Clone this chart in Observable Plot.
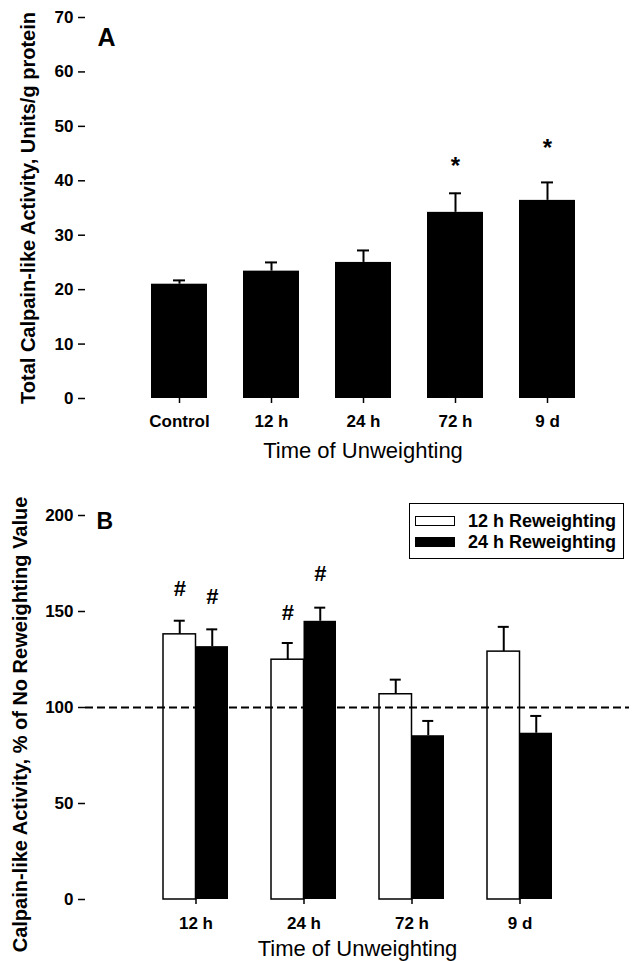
<!DOCTYPE html>
<html>
<head>
<meta charset="utf-8">
<script src="https://cdn.jsdelivr.net/npm/d3@7"></script>
<script src="https://cdn.jsdelivr.net/npm/@observablehq/plot@0.6"></script>
<style>
  html, body { margin: 0; padding: 0; background: #fff; }
  #wrap { position: relative; width: 640px; height: 961px; font-family: "Liberation Sans", Arial, sans-serif; }
  #wrap svg { position: absolute; left: 0; overflow: visible; }
  .legend { position: absolute; left: 409px; top: 503px; width: 213px; height: 54px; border: 1.5px solid #000; background: #fff; }
  .row { position: absolute; left: 0; height: 20px; display: flex; align-items: center; }
  .sw { width: 38px; height: 8px; margin-left: 5px; margin-right: 13px; border: 1.5px solid #000; }
  .lt { font-weight: bold; font-size: 18px; color: #000; white-space: nowrap; }
</style>
</head>
<body>
<div id="wrap"></div>
<script>
// ---- Panel A data ----
const timesA = ["Control", "12 h", "24 h", "72 h", "9 d"];
const meanA = [21.0, 23.4, 25.0, 34.2, 36.4];
const semA = [0.7, 1.6, 2.2, 3.5, 3.3];
const ticksA = [0, 10, 20, 30, 40, 50, 60, 70];
const starTimesA = ["72 h", "9 d"];
const starYA = [42.6, 45.9];

// ---- Panel B data ----
const timesB = ["12 h", "24 h", "72 h", "9 d"];
const seriesB = ["12 h Reweighting", "24 h Reweighting"];
const mean12 = [138.1, 124.9, 106.9, 129.1];
const sem12 = [7.1, 8.7, 7.6, 12.9];
const mean24 = [131.7, 144.9, 85.3, 86.6];
const sem24 = [9.0, 7.1, 7.7, 9.0];
const ticksB = [0, 50, 100, 150, 200];
const hash12 = [{time: "12 h", y: 162}, {time: "24 h", y: 149}];
const hash24 = [{time: "12 h", y: 157.7}, {time: "24 h", y: 169.4}];
const refLine = [100];

const dataA = timesA.map((t, i) => ({time: t, mean: meanA[i], sem: semA[i]}));
const starsA = starTimesA.map((t, i) => ({time: t, y: starYA[i]}));
const d12 = timesB.map((t, i) => ({time: t, mean: mean12[i], sem: sem12[i]}));
const d24 = timesB.map((t, i) => ({time: t, mean: mean24[i], sem: sem24[i]}));

const font = "Liberation Sans, Arial, sans-serif";

const chartA = Plot.plot({
  width: 640, height: 470,
  marginLeft: 85, marginRight: 0, marginTop: 17, marginBottom: 72,
  style: {fontFamily: font, fontWeight: "bold", fontSize: "17px", background: "transparent", color: "black"},
  x: {domain: timesA, paddingInner: 0.395, paddingOuter: 0.6975, align: 0.5, label: null, axis: null},
  y: {domain: [0, 70], label: null, axis: null},
  marks: [
    Plot.barY(dataA, {x: "time", y: "mean", fill: "black"}),
    Plot.ruleX(dataA, {x: "time", y1: "mean", y2: d => d.mean + d.sem, stroke: "black", strokeWidth: 2}),
    Plot.tickY(dataA, {x: "time", y: d => d.mean + d.sem, insetLeft: 22, insetRight: 22, stroke: "black", strokeWidth: 2}),
    Plot.text(starsA, {x: "time", y: "y", text: () => "*", fontSize: 24, fontWeight: "bold"}),
    Plot.axisY({ticks: ticksA, tickSize: 7, tickPadding: 5, line: true, label: null, fontSize: 17, strokeWidth: 1.5}),
    Plot.axisX({tickSize: 5, tickPadding: 11, line: true, label: null, fontSize: 17, strokeWidth: 1.5}),
    Plot.text(["Total Calpain-like Activity, Units/g protein"], {frameAnchor: "left", text: d => d, rotate: -90, textAnchor: "middle", lineAnchor: "middle", dx: -57, fontSize: 20, fontWeight: "bold"}),
    Plot.text(["Time of Unweighting"], {frameAnchor: "bottom", text: d => d, textAnchor: "middle", lineAnchor: "middle", dy: 52, fontSize: 22, fontWeight: "normal"}),
    Plot.text(["A"], {frameAnchor: "top-left", text: d => d, dx: 12, dy: 11, lineAnchor: "top", textAnchor: "start", fontSize: 25, fontWeight: "bold"})
  ]
});

const bw = 65, half = bw / 2, capW = 11;
const capIn = half / 2 - capW / 2;

const chartB = Plot.plot({
  width: 640, height: 491,
  marginLeft: 85, marginRight: 11, marginTop: 45, marginBottom: 62,
  style: {fontFamily: font, fontWeight: "bold", fontSize: "17px", background: "transparent", color: "black"},
  x: {domain: timesB, paddingInner: 0.4026, paddingOuter: 0.7013, align: 0.5, label: null, axis: null},
  y: {domain: [0, 200], label: null, axis: null},
  marks: [
    Plot.barY(d12, {x: "time", y: "mean", fill: "white", stroke: "black", strokeWidth: 1.5, insetRight: half}),
    Plot.barY(d24, {x: "time", y: "mean", fill: "black", insetLeft: half}),
    Plot.ruleY(refLine, {stroke: "black", strokeWidth: 2, strokeDasharray: "8,4"}),
    Plot.ruleX(d12, {x: "time", y1: "mean", y2: d => d.mean + d.sem, dx: -half / 2, stroke: "black", strokeWidth: 2}),
    Plot.ruleX(d24, {x: "time", y1: "mean", y2: d => d.mean + d.sem, dx: half / 2, stroke: "black", strokeWidth: 2}),
    Plot.tickY(d12, {x: "time", y: d => d.mean + d.sem, insetLeft: capIn, insetRight: bw - capIn - capW, stroke: "black", strokeWidth: 2}),
    Plot.tickY(d24, {x: "time", y: d => d.mean + d.sem, insetLeft: bw - capIn - capW, insetRight: capIn, stroke: "black", strokeWidth: 2}),
    Plot.text(hash12, {x: "time", y: "y", text: () => "#", dx: -half / 2, fontSize: 22, fontWeight: "bold"}),
    Plot.text(hash24, {x: "time", y: "y", text: () => "#", dx: half / 2, fontSize: 22, fontWeight: "bold"}),
    Plot.axisY({ticks: ticksB, tickSize: 7, tickPadding: 5, line: true, label: null, fontSize: 17, strokeWidth: 1.5}),
    Plot.axisX({tickSize: 5, tickPadding: 12, line: true, label: null, fontSize: 17, strokeWidth: 1.5}),
    Plot.text(["Calpain-like Activity, % of No Reweighting Value"], {frameAnchor: "left", text: d => d, rotate: -90, textAnchor: "middle", lineAnchor: "middle", dx: -65, dy: 17, fontSize: 20, fontWeight: "bold"}),
    Plot.text(["Time of Unweighting"], {frameAnchor: "bottom", text: d => d, textAnchor: "middle", lineAnchor: "middle", dy: 49, fontSize: 22, fontWeight: "normal"}),
    Plot.text(["B"], {frameAnchor: "top-left", text: d => d, dx: 11, dy: -3, lineAnchor: "top", textAnchor: "start", fontSize: 23, fontWeight: "bold"})
  ]
});

const wrap = document.getElementById("wrap");
chartA.style.top = "0px";
chartB.style.top = "470px";
wrap.appendChild(chartA);
wrap.appendChild(chartB);

// Legend (panel B)
const legend = document.createElement("div");
legend.className = "legend";
[["white", 7], ["black", 28]].forEach(([fill, top], i) => {
  const row = document.createElement("div");
  row.className = "row";
  row.style.top = top + "px";
  const sw = document.createElement("div");
  sw.className = "sw";
  sw.style.background = fill;
  const lt = document.createElement("span");
  lt.className = "lt";
  lt.textContent = seriesB[i];
  row.appendChild(sw);
  row.appendChild(lt);
  legend.appendChild(row);
});
wrap.appendChild(legend);
</script>
</body>
</html>
